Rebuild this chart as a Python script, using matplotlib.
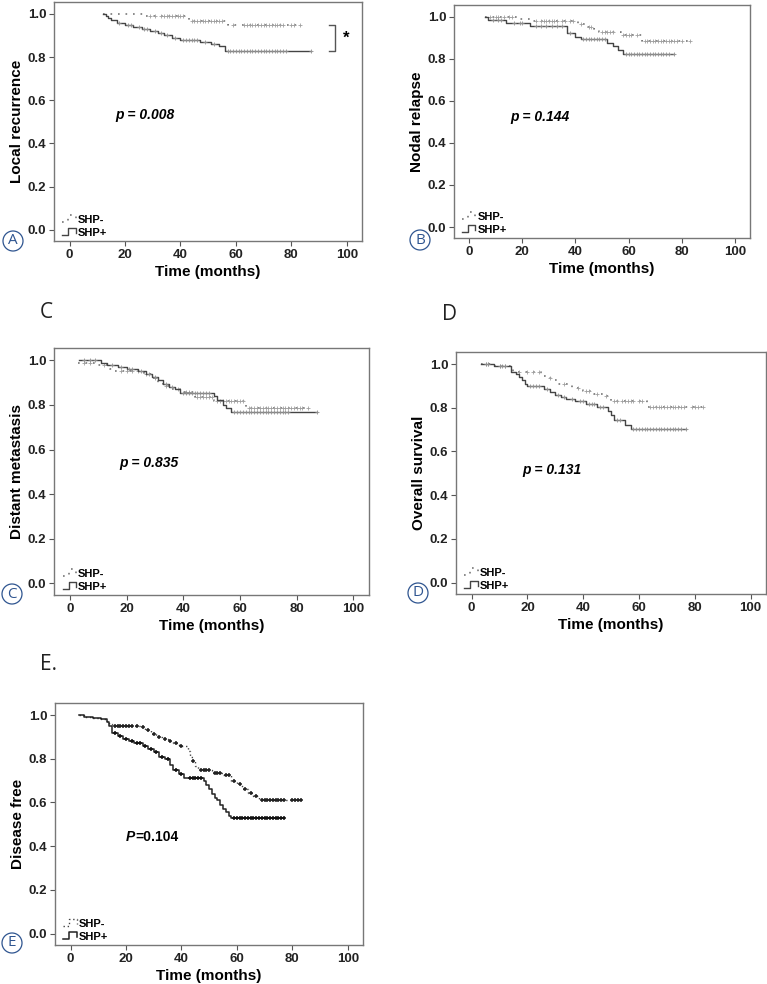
import numpy as np
import matplotlib
matplotlib.use("Agg")
import matplotlib.pyplot as plt
from matplotlib.lines import Line2D
from matplotlib.patches import Ellipse
from matplotlib.legend_handler import HandlerBase

plt.rcParams["font.family"] = ["Liberation Sans", "DejaVu Sans"]

# ---- KM curves: start, event times (value after each step), end ----
# A: local recurrence
a_neg_t = [12, 27, 43, 57, 83.5]
a_neg_s = [1.0, 0.99, 0.965, 0.948, 0.948]
a_neg_c = [29, 31, 33, 34, 35, 36, 37, 38, 39, 40, 41, 44, 45, 46, 47, 48, 49, 50, 51, 52, 53, 54, 55,
           59, 63, 64, 65, 66, 67, 68, 69, 70, 71, 72, 73, 74, 75, 76, 77, 80, 81, 83]
a_pos_t = [12, 13, 14, 15, 17, 20, 23, 26, 29, 32, 34, 37, 40, 47, 51, 54, 56, 87]
a_pos_s = [1.0, 0.99, 0.98, 0.97, 0.96, 0.95, 0.94, 0.93, 0.92, 0.91, 0.90, 0.89, 0.88, 0.87, 0.86, 0.85, 0.83, 0.83]
a_pos_c = [18, 21, 22, 25, 27, 28, 31, 33, 35, 38, 41, 42, 43, 44, 45, 46, 49, 52, 57, 58, 59, 60, 61,
           62, 63, 64, 65, 66, 67, 68, 69, 70, 71, 72, 73, 74, 75, 76, 77, 78, 87]

# B: nodal relapse
b_neg_t = [6, 19, 23, 41, 44, 47, 49, 57, 65, 83]
b_neg_s = [1.0, 0.99, 0.978, 0.965, 0.95, 0.94, 0.925, 0.912, 0.885, 0.885]
b_neg_c = [8, 10, 11, 13, 15, 16, 25, 27, 28, 29, 30, 31, 32, 33, 35, 36, 38, 39, 42, 45, 46, 50, 51,
           52, 53, 54, 58, 59, 60, 61, 63, 66, 67, 68, 69, 70, 71, 72, 73, 74, 75, 76, 77, 78, 80, 83]
b_pos_t = [6, 7, 14, 23, 37, 40, 42, 52, 54, 56, 58, 77]
b_pos_s = [1.0, 0.985, 0.97, 0.953, 0.92, 0.905, 0.893, 0.875, 0.86, 0.84, 0.822, 0.822]
b_pos_c = [9, 11, 12, 17, 19, 20, 25, 27, 29, 31, 33, 35, 38, 43, 44, 45, 46, 47, 48, 49, 50, 51, 59,
           60, 61, 62, 63, 64, 65, 66, 67, 68, 69, 70, 71, 72, 73, 74, 75, 77]

# C: distant metastasis
c_neg_t = [3, 10, 14, 16, 26, 29, 31, 33, 36, 39, 44, 51, 62, 84]
c_neg_s = [0.99, 0.98, 0.96, 0.952, 0.94, 0.92, 0.90, 0.885, 0.87, 0.86, 0.835, 0.818, 0.787, 0.787]
c_neg_c = [5, 7, 12, 18, 20, 22, 24, 27, 30, 34, 38, 41, 42, 45, 46, 47, 48, 49, 50, 52, 53, 54, 55,
           56, 57, 58, 59, 60, 61, 63, 64, 65, 66, 67, 68, 69, 70, 71, 72, 73, 74, 75, 76, 77, 78,
           79, 80, 81, 82, 84]
c_pos_t = [3.3, 11, 13, 17, 20, 24, 27, 29, 31, 33, 35, 37, 39, 51, 52, 54, 55, 57, 87]
c_pos_s = [1.0, 0.99, 0.98, 0.97, 0.96, 0.95, 0.94, 0.925, 0.91, 0.895, 0.88, 0.87, 0.855, 0.84, 0.82,
           0.80, 0.785, 0.769, 0.769]
c_pos_c = [5, 7, 9, 15, 18, 21, 22, 25, 28, 30, 34, 36, 40, 41, 42, 43, 44, 45, 46, 47, 48, 49, 58,
           59, 60, 61, 62, 63, 64, 65, 66, 67, 68, 69, 70, 71, 72, 73, 74, 75, 76, 77, 87]

# D: overall survival
d_neg_t = [3.2, 8, 15, 25, 27, 29, 31, 36, 40, 44, 47, 50, 63, 83]
d_neg_s = [1.0, 0.99, 0.965, 0.947, 0.935, 0.925, 0.91, 0.89, 0.878, 0.865, 0.855, 0.832, 0.805, 0.805]
d_neg_c = [5, 6, 10, 12, 17, 20, 22, 24, 28, 33, 38, 41, 42, 45, 48, 51, 52, 54, 55, 56, 57, 58, 60,
           61, 64, 65, 66, 67, 68, 69, 70, 71, 72, 73, 74, 75, 76, 79, 80, 81, 83]
d_pos_t = [3.2, 8, 14, 16, 17, 18, 19, 20, 26, 28, 30, 32, 34, 37, 41, 45, 49, 50, 51, 55, 57, 77]
d_pos_s = [1.0, 0.99, 0.965, 0.954, 0.94, 0.925, 0.91, 0.898, 0.885, 0.87, 0.86, 0.85, 0.84, 0.832,
           0.818, 0.805, 0.785, 0.765, 0.745, 0.72, 0.703, 0.703]
d_pos_c = [5, 6, 10, 11, 12, 21, 22, 23, 24, 27, 31, 33, 36, 39, 40, 42, 43, 44, 46, 47, 52, 53, 58,
           59, 60, 61, 62, 63, 64, 65, 66, 67, 68, 69, 70, 71, 72, 73, 74, 75, 77]

# E: disease free
e_neg_t = [3.2, 5, 8, 11, 13, 14, 15, 25, 27, 29, 31, 33, 35, 37, 39, 42.4, 43, 44, 45, 46, 51, 55,
           58, 60, 62, 64, 66, 68, 83.4]
e_neg_s = [1.0, 0.99, 0.985, 0.98, 0.97, 0.96, 0.95, 0.945, 0.93, 0.915, 0.90, 0.89, 0.88, 0.87,
           0.858, 0.835, 0.81, 0.79, 0.765, 0.748, 0.735, 0.725, 0.70, 0.685, 0.66, 0.645, 0.63,
           0.61, 0.61]
e_neg_c = [16, 17, 18, 19, 20, 21, 22, 24, 26, 28, 30, 32, 34, 36, 38, 40, 44, 47, 48, 49, 50, 52,
           53, 54, 56, 57, 59, 61, 63, 65, 67, 69, 70, 71, 72, 73, 74, 75, 76, 77, 80, 81, 82, 83]
e_pos_t = [3.2, 5, 8, 11, 13, 14, 15, 17, 19, 21, 23, 26, 28, 30, 32, 34, 36, 37, 39, 41, 48, 49,
           50, 51, 52, 53, 54, 55, 56, 57, 58, 77]
e_pos_s = [1.0, 0.99, 0.985, 0.98, 0.97, 0.95, 0.92, 0.905, 0.89, 0.88, 0.87, 0.86, 0.845, 0.83,
           0.81, 0.80, 0.77, 0.75, 0.73, 0.71, 0.70, 0.68, 0.66, 0.64, 0.62, 0.61, 0.59, 0.57,
           0.555, 0.54, 0.53, 0.53]
e_pos_c = [16, 18, 20, 22, 24, 25, 27, 29, 31, 33, 35, 38, 40, 43, 44, 45, 46, 47, 59, 60, 61, 62,
           63, 64, 65, 66, 67, 68, 69, 70, 71, 72, 73, 74, 75, 76, 77]

ylabels = ["Local recurrence", "Nodal relapse", "Distant metastasis", "Overall survival", "Disease free"]
pvals = ["p = 0.008", "p = 0.144", "p = 0.835", "p = 0.131", "=0.104"]
groups = ["SHP-", "SHP+"]

# layout (pixel boxes measured on the 767x984 reference)
W, H = 767, 984
boxes = [(54, 2, 362, 241), (454, 5, 750, 238), (54, 348, 369, 595), (456, 352, 766, 594), (55, 703, 363, 945)]
ptext_xy = [(16.6, 0.53), (15.5, 0.523), (17.5, 0.54), (18, 0.513), (20.1, 0.44)]
circles = [(13, 241, "A"), (420, 240, "B"), (12, 594, "C"), (418, 593, "D"), (12, 943, "E")]
headers = [(40, 313, "C"), (442, 315, "D"), (40, 665, "E.")]


class StepHandler(HandlerBase):
    def create_artists(self, legend, orig, xd, yd, w, h, fontsize, trans):
        xs = np.array([0, 0.45, 0.45, 1.0, 1.0]) * w - xd
        ys = np.array([0.05, 0.05, 0.95, 0.95, 0.35]) * h - yd
        ln = Line2D(xs, ys)
        ln.update_from(orig)
        ln.set_marker("")
        ln.set_transform(trans)
        return [ln]


def km(ax, t, s, cens, ls, lw, col, mcol, ms, mew):
    line, = ax.step(t, s, where="post", color=col, lw=lw, linestyle=ls)
    t = np.asarray(t); s = np.asarray(s)
    idx = np.searchsorted(t, cens, side="right") - 1
    ax.plot(cens, s[idx], "+", color=mcol, ms=ms, mew=mew, ls="none")
    return line


fig = plt.figure(figsize=(W / 100, H / 100), dpi=100)
data = [
    (a_neg_t, a_neg_s, a_neg_c, a_pos_t, a_pos_s, a_pos_c),
    (b_neg_t, b_neg_s, b_neg_c, b_pos_t, b_pos_s, b_pos_c),
    (c_neg_t, c_neg_s, c_neg_c, c_pos_t, c_pos_s, c_pos_c),
    (d_neg_t, d_neg_s, d_neg_c, d_pos_t, d_pos_s, d_pos_c),
    (e_neg_t, e_neg_s, e_neg_c, e_pos_t, e_pos_s, e_pos_c),
]
for i, ((x0, y0, x1, y1), d) in enumerate(zip(boxes, data)):
    ax = fig.add_axes([x0 / W, 1 - y1 / H, (x1 - x0) / W, (y1 - y0) / H])
    if i == 4:
        h1 = km(ax, d[0], d[1], d[2], (0, (1, 2)), 1.0, "#444444", "#222222", 3.2, 1.1)
        h2 = km(ax, d[3], d[4], d[5], "-", 1.1, "#222222", "#111111", 3.2, 1.1)
    else:
        h1 = km(ax, d[0], d[1], d[2], (0, (1, 3.5)), 1.2, "#777777", "#a0a0a0", 2.5, 0.6)
        h2 = km(ax, d[3], d[4], d[5], "-", 1.0, "#444444", "#909090", 2.5, 0.6)
    ax.set_xlim(-5.6, 105.5)
    ax.set_ylim(-0.052, 1.055)
    ax.set_xticks([0, 20, 40, 60, 80, 100])
    ax.set_yticks([0.0, 0.2, 0.4, 0.6, 0.8, 1.0])
    ax.set_yticklabels([f"{v:.1f}" for v in [0.0, 0.2, 0.4, 0.6, 0.8, 1.0]])
    ax.tick_params(direction="out", length=3.5, width=0.8, color="#555555", labelsize=9.5, pad=2)
    for lab in ax.get_xticklabels() + ax.get_yticklabels():
        lab.set_fontweight("bold")
        lab.set_color("#222222")
    for sp in ax.spines.values():
        sp.set_color("#777777"); sp.set_linewidth(1.0)
    ax.set_ylabel(ylabels[i], fontsize=11, fontweight="bold", labelpad=3)
    ax.set_xlabel("Time (months)", fontsize=11, fontweight="bold", labelpad=3)
    px, py = ptext_xy[i]
    if i < 4:
        ax.text(px, py, pvals[i], fontsize=10, fontweight="bold", style="italic", va="center")
    else:
        tp = ax.text(px, py, "P", fontsize=10, fontweight="bold", style="italic", va="center")
        ax.annotate(pvals[i], xy=(1, 0), xycoords=tp, va="bottom", fontsize=10, fontweight="bold")
    leg = ax.legend([h1, h2], groups, loc="lower left", bbox_to_anchor=(0.02, 0.005), frameon=False,
                    fontsize=8, handlelength=1.2, handletextpad=0.2, labelspacing=0.25,
                    borderaxespad=0, borderpad=0.2, handler_map={Line2D: StepHandler()})
    for txt in leg.get_texts():
        txt.set_fontweight("bold")
    if i == 0:
        # bracket with star between the two final plateaus
        top, bot = a_neg_s[-1], a_pos_s[-1]
        ax.plot([93.6, 95.8, 95.8, 93.6], [top, top, bot, bot], color="#555555", lw=1)
        ax.text(98.5, (top + bot) / 2, "*", fontsize=12, fontweight="bold", va="center")

for cx, cy, lab in circles:
    fig.patches.append(Ellipse((cx / W, 1 - cy / H), 20 / W, 20 / H, transform=fig.transFigure,
                               fill=False, ec="#2f5590", lw=0.9))
    fig.text(cx / W, 1 - cy / H, lab, ha="center", va="center", fontsize=11, color="#2f5590",
             family=["Open Sans", "DejaVu Sans"])

for hx, hy, lab in headers:
    fig.text(hx / W, 1 - hy / H, lab, ha="left", va="center", fontsize=15, color="#222222",
             family=["Open Sans", "DejaVu Sans"])

fig.savefig("out.png", dpi=100)
